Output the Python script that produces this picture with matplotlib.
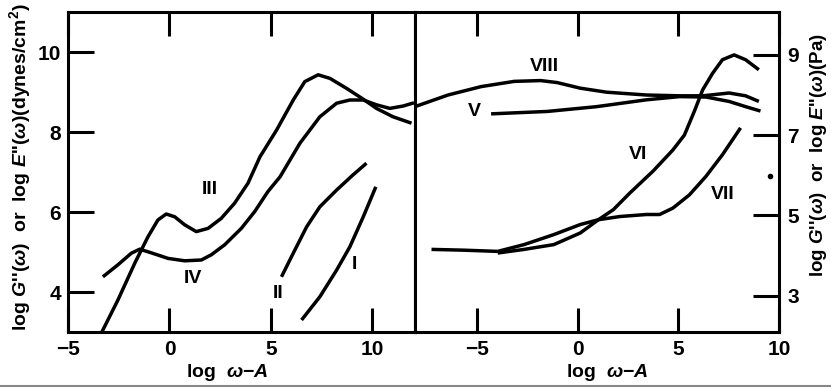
import matplotlib
matplotlib.use("Agg")
import matplotlib.pyplot as plt
from matplotlib.lines import Line2D

plt.rcParams['font.family'] = ['Liberation Sans', 'DejaVu Sans']
plt.rcParams['font.weight'] = 'bold'
plt.rcParams['mathtext.fontset'] = 'custom'
plt.rcParams['mathtext.it'] = 'Liberation Sans:italic:bold'
plt.rcParams['mathtext.rm'] = 'Liberation Sans:bold'
plt.rcParams['mathtext.bf'] = 'Liberation Sans:bold'

# ---------------- data (left panel: dynes/cm^2) ----------------
III_x = [-3.36, -2.54, -1.71, -1.06, -0.57, -0.16, 0.26, 0.75, 1.32, 1.9, 2.55, 3.21, 3.87,
         4.46, 5.28, 6.1, 6.67, 7.33, 7.91, 8.73, 9.55, 10.2, 11.02, 11.93]
III_y = [2.97, 3.8, 4.72, 5.38, 5.8, 5.95, 5.88, 5.68, 5.51, 5.59, 5.84, 6.22, 6.72,
         7.38, 8.05, 8.8, 9.26, 9.43, 9.34, 9.09, 8.82, 8.59, 8.38, 8.22]

IV_x = [-3.28, -2.54, -1.88, -1.47, -0.9, -0.07, 0.75, 1.57, 2.06, 2.72, 3.54, 4.2, 4.85,
        5.45, 6.43, 7.41, 8.24, 8.89, 9.55, 10.2, 10.86, 11.52, 12.05]
IV_y = [4.38, 4.68, 4.97, 5.07, 4.98, 4.84, 4.78, 4.8, 4.93, 5.18, 5.59, 6.01, 6.51,
        6.88, 7.72, 8.38, 8.72, 8.8, 8.8, 8.68, 8.59, 8.65, 8.73]

II_x = [5.52, 6.1, 6.76, 7.41, 8.24, 9.05, 9.71]
II_y = [4.38, 4.97, 5.63, 6.13, 6.55, 6.93, 7.22]

I_x = [6.51, 7.41, 8.24, 8.89, 9.55, 10.17]
I_y = [3.3, 3.88, 4.55, 5.13, 5.88, 6.63]

# ---------------- data (right panel: Pa) ----------------
VIII_x = [-8.08, -6.44, -4.79, -3.15, -1.84, -1.02, 0.13, 1.44, 3.41, 5.06, 6.21, 7.52, 8.34, 9.0]
VIII_y = [7.71, 8.0, 8.21, 8.34, 8.36, 8.31, 8.17, 8.07, 8.0, 7.98, 7.98, 8.05, 7.98, 7.84]

V_x = [-4.3, -1.51, 0.95, 3.41, 5.06, 6.37, 7.52, 8.34, 9.08]
V_y = [7.53, 7.59, 7.71, 7.88, 7.96, 7.95, 7.84, 7.71, 7.6]

VI_x = [-3.97, -2.66, -1.18, 0.13, 1.03, 1.77, 2.6, 3.74, 4.73, 5.3, 5.8, 6.21, 6.7, 7.19,
        7.77, 8.34, 9.0]
VI_y = [4.06, 4.15, 4.27, 4.56, 4.89, 5.14, 5.56, 6.1, 6.63, 7.0, 7.6, 8.13, 8.54, 8.88,
        9.0, 8.88, 8.63]

VII_x = [-7.26, -5.62, -3.97, -2.66, -1.18, 0.13, 1.03, 2.1, 3.41, 4.07, 4.73, 5.55, 6.37,
         7.19, 8.09]
VII_y = [4.15, 4.13, 4.1, 4.27, 4.52, 4.77, 4.89, 4.97, 5.02, 5.02, 5.18, 5.51, 5.97,
         6.51, 7.18]

speck_x = [9.57]
speck_y = [5.97]

left_xticks = [-5, 0, 5, 10]
left_xticklabels = ['\u22125', '0', '5', '10']
left_yticks = [4, 6, 8, 10]
right_xticks = [-5, 0, 5, 10]
right_xticklabels = ['\u22125', '0', '5', '10']
right_yticks = [3, 5, 7, 9]

left_labels = [('III', 1.98, 6.55), ('IV', 1.16, 4.34), ('II', 5.36, 3.97), ('I', 9.14, 4.68)]
right_labels = [('VIII', -1.67, 8.71), ('V', -5.12, 7.59), ('VI', 3.0, 6.51), ('VII', 7.19, 5.51)]

# ---------------- figure ----------------
fig = plt.figure(figsize=(8.31, 3.89), dpi=100)
bottom = 1 - 332 / 389
height = (332 - 12) / 389
axL = fig.add_axes([68 / 831, bottom, 347 / 831, height])
axR = fig.add_axes([415 / 831, bottom, 364 / 831, height])

lw = 2.5
kw = dict(color='black', lw=lw, solid_capstyle='butt', solid_joinstyle='round')
for xs, ys in [(III_x, III_y), (IV_x, IV_y), (II_x, II_y), (I_x, I_y)]:
    axL.plot(xs, ys, **kw)
for xs, ys in [(VIII_x, VIII_y), (V_x, V_y), (VI_x, VI_y), (VII_x, VII_y)]:
    axR.plot(xs, ys, **kw)
axR.plot(speck_x, speck_y, 'o', color='black', ms=3)

axL.set_xlim(-5, 12.1)
axL.set_ylim(3, 11)
axR.set_xlim(-8.08, 10)
axR.set_ylim(2.09, 10.07)

for ax in (axL, axR):
    for s in ax.spines.values():
        s.set_linewidth(2.2)

axL.set_xticks(left_xticks)
axL.set_xticklabels(left_xticklabels)
axL.set_yticks(left_yticks)
axL.tick_params(axis='x', direction='in', length=17, width=2.2, top=True, labeltop=False,
                labelsize=15, pad=6)
axL.tick_params(axis='y', direction='in', length=19, width=2.2, right=False, labelsize=15, pad=5)

axR.set_xticks(right_xticks)
axR.set_xticklabels(right_xticklabels)
axR.set_yticks(right_yticks)
axR.tick_params(axis='x', direction='in', length=17, width=2.2, top=True, labeltop=False,
                labelsize=15, pad=6)
axR.tick_params(axis='y', direction='in', length=19, width=2.2, left=False, labelleft=False,
                right=True, labelright=True, labelsize=15, pad=6)

for lab in axL.get_xticklabels() + axL.get_yticklabels() + axR.get_xticklabels() + axR.get_yticklabels():
    lab.set_fontweight('bold')

axL.set_xlabel(r'log  $\omega$$-$$\mathit{A}$', fontsize=14, fontweight='bold')
axL.xaxis.set_label_coords(0.46, -0.094)
axR.set_xlabel(r'log  $\omega$$-$$\mathit{A}$', fontsize=14, fontweight='bold')
axR.xaxis.set_label_coords(0.527, -0.094)

axL.set_ylabel(r"log $\mathit{G}$''($\omega$)  or  log $\mathit{E}$''($\omega$)(dynes/cm$^2$)",
               fontsize=14, fontweight='bold')
axL.yaxis.set_label_coords(-0.101, 0.514)
axR.yaxis.set_label_position('right')
axR.set_ylabel(r"log $\mathit{G}$''($\omega$)  or  log $\mathit{E}$''($\omega$)(Pa)",
               fontsize=13.5, fontweight='bold', rotation=90)
axR.yaxis.set_label_coords(1.081, 0.553)

for t, x, y in left_labels:
    axL.text(x, y, t, fontsize=14, fontweight='bold', ha='center', va='center')
for t, x, y in right_labels:
    axR.text(x, y, t, fontsize=14, fontweight='bold', ha='center', va='center')

fig.add_artist(Line2D([0, 1], [1 - 386 / 389, 1 - 386 / 389], transform=fig.transFigure,
                      color='#888888', lw=1.5))

fig.savefig('out.png', dpi=100)
